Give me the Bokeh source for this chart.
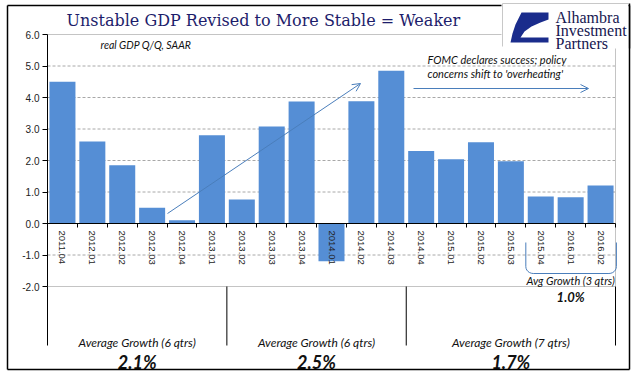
import math
from bokeh.plotting import figure
from bokeh.models import (Range1d, Label, Arrow, OpenHead, ColumnDataSource, LinearAxis,
                          FixedTicker, NumeralTickFormatter, PolyAnnotation)
from bokeh.embed import file_html
from bokeh.resources import INLINE

# ---------------- data ----------------
quarters = ["2011.04", "2012.01", "2012.02", "2012.03", "2012.04", "2013.01", "2013.02",
            "2013.03", "2013.04", "2014.01", "2014.02", "2014.03", "2014.04", "2015.01",
            "2015.02", "2015.03", "2015.04", "2016.01", "2016.02"]
gdp = [4.5, 2.6, 1.85, 0.5, 0.1, 2.8, 0.76, 3.08, 3.87, -1.2, 3.88, 4.85,
       2.3, 2.04, 2.58, 1.98, 0.86, 0.83, 1.21]
y_ticks = [-2, -1, 0, 1, 2, 3, 4, 5, 6]
group_labels = ["Average Growth (6 qtrs)", "Average Growth (6 qtrs)", "Average Growth (7 qtrs)"]
group_values = ["2.1%", "2.5%", "1.7%"]
group_bounds = [0, 6, 12, 19]
recent_label = "Avg Growth (3 qtrs)"
recent_value = "1.0%"
recent_span = [16, 19]
title_text = "Unstable GDP Revised to More Stable = Weaker"
subtitle_text = "real GDP Q/Q, SAAR"
note_lines = ["FOMC declares success; policy", "concerns shift to 'overheating'"]
logo_lines = ["Alhambra", "Investment", "Partners"]

# ---------------- layout (plot area inside the canvas) ----------------
W, H = 641, 375
L, R, T, B = 47, 26, 34, 89          # plot area margins in px
FW, FH = W - L - R, H - T - B
YMIN, YMAX = y_ticks[0], y_ticks[-1]
NX = len(quarters)
XU = FW / NX                          # px per category
YU = FH / (YMAX - YMIN)               # px per unit

def px2x(px):
    return (px - L) / XU

def px2y(py):
    return YMAX - (py - T) / YU

BAR = "#558ed5"
ARROWC = "#4a7ebb"
NAVY = "#1d1d6b"
ITALIC_FONT = "Lato"
GRID = "#a8a8a8"
FRAME = "#c4c4c4"

p = figure(width=W, height=H,
           x_range=Range1d(px2x(0), px2x(W)), y_range=Range1d(px2y(H), px2y(0)),
           x_axis_location=None, y_axis_location=None,
           output_backend="svg", toolbar_location=None,
           min_border=0, min_border_left=0, min_border_right=0,
           min_border_top=0, min_border_bottom=0)
p.title.visible = False
p.background_fill_color = "white"
p.border_fill_color = "white"
p.outline_line_color = None
p.xgrid.visible = False
p.ygrid.visible = False

xpos = [i + 0.5 for i in range(NX)]
bounds_x = list(range(NX + 1))

# gridlines (dashed) and plot-area border (light grey)
inner = [t for t in y_ticks if YMIN < t < YMAX]
p.segment(x0=[0] * len(inner), y0=inner, x1=[NX] * len(inner), y1=inner,
          line_color=GRID, line_width=1, line_dash="3 2")
p.multi_line(xs=[[0, NX, NX, 0]], ys=[[YMAX, YMAX, YMIN, YMIN]], line_color=FRAME, line_width=1)

# bars
p.vbar(x=xpos, top=gdp, width=0.87, fill_color=BAR, line_color=None)

# y axis at the left edge of the plot area
yax = LinearAxis(fixed_location=0, bounds=(YMIN, YMAX))
yax.ticker = FixedTicker(ticks=y_ticks)
yax.formatter = NumeralTickFormatter(format="0.0")
yax.major_tick_in = 0
yax.major_tick_out = 5
yax.minor_tick_out = 0
yax.minor_tick_in = 0
yax.axis_line_color = "black"
yax.major_tick_line_color = "black"
yax.major_label_text_font = "Liberation Sans"
yax.major_label_text_font_size = "10px"
yax.major_label_text_color = "#222222"
yax.major_label_standoff = 3
p.add_layout(yax, "left")

# category axis on the zero line: tick marks between categories
xax_t = LinearAxis(fixed_location=0, bounds=(0, NX))
xax_t.ticker = FixedTicker(ticks=bounds_x)
xax_t.major_tick_in = 0
xax_t.major_tick_out = 4
xax_t.minor_tick_out = 0
xax_t.minor_tick_in = 0
xax_t.axis_line_color = "black"
xax_t.major_tick_line_color = "black"
xax_t.major_label_text_color = None
p.add_layout(xax_t, "below")

# category labels
xax_l = LinearAxis(fixed_location=0)
xax_l.ticker = FixedTicker(ticks=xpos)
xax_l.major_label_overrides = {x: q for x, q in zip(xpos, quarters)}
xax_l.major_label_orientation = "vertical"
xax_l.major_tick_out = 0
xax_l.major_tick_in = 0
xax_l.minor_tick_out = 0
xax_l.minor_tick_in = 0
xax_l.axis_line_color = None
xax_l.major_tick_line_color = None
xax_l.major_label_standoff = 7
xax_l.major_label_text_font = "Liberation Sans"
xax_l.major_label_text_font_size = "9.5px"
xax_l.major_label_text_color = "#222222"
p.add_layout(xax_l, "below")

# arrows
p.add_layout(Arrow(end=OpenHead(size=8, line_color=ARROWC, line_width=1),
                   x_start=px2x(167), y_start=px2y(213), x_end=px2x(360), y_end=px2y(83),
                   line_color=ARROWC, line_width=1))
p.add_layout(Arrow(end=OpenHead(size=8, line_color=ARROWC, line_width=1),
                   x_start=px2x(413), y_start=px2y(88), x_end=px2x(588), y_end=px2y(88),
                   line_color=ARROWC, line_width=1))

# text annotations
p.add_layout(Label(x=px2x(100), y=px2y(44), text=subtitle_text, text_font=ITALIC_FONT,
                   text_font_style="italic", text_font_size="10.5px", text_color="#111111",
                   text_baseline="middle"))
for i, line in enumerate(note_lines):
    p.add_layout(Label(x=px2x(427), y=px2y(59 + 14 * i), text=line, text_font=ITALIC_FONT,
                       text_font_style="italic", text_font_size="11px", text_color="#111111",
                       text_baseline="middle"))

# bracket for the recent quarters
x0b, x1b = recent_span[0], recent_span[1] + 0.03
ytop, ybot = px2y(242), px2y(273)
rx, ry = 0.25, 0.22
bxs, bys = [x0b, x0b], [ytop, ybot + ry]
for k in range(1, 7):
    a = math.pi + k * (math.pi / 2) / 6
    bxs.append(x0b + rx + rx * math.cos(a)); bys.append(ybot + ry + ry * math.sin(a))
for k in range(0, 7):
    a = 1.5 * math.pi + k * (math.pi / 2) / 6
    bxs.append(x1b - rx + rx * math.cos(a)); bys.append(ybot + ry + ry * math.sin(a))
bxs.append(x1b); bys.append(ytop)
p.line(bxs, bys, line_color=ARROWC, line_width=1)
rc = (recent_span[0] + recent_span[1]) / 2
p.add_layout(Label(x=rc, y=px2y(280), text=recent_label,
                   text_font=ITALIC_FONT, text_font_style="italic", text_font_size="11px",
                   text_color="#111111", text_align="center", text_baseline="middle"))
p.add_layout(Label(x=rc, y=px2y(296), text=recent_value,
                   text_font=ITALIC_FONT, text_font_style="bold italic", text_font_size="13px",
                   text_color="#111111", text_align="center", text_baseline="middle"))

# bottom section: dividers and group averages
div_bottom = px2y(345)
p.segment(x0=group_bounds, y0=[YMIN] * len(group_bounds), x1=group_bounds,
          y1=[div_bottom] * len(group_bounds), line_color="black", line_width=1)
for i in range(len(group_labels)):
    cx = (group_bounds[i] + group_bounds[i + 1]) / 2
    p.add_layout(Label(x=cx, y=px2y(342), text=group_labels[i], text_font=ITALIC_FONT,
                       text_font_style="italic", text_font_size="12px", text_color="#111111",
                       text_align="center", text_baseline="middle"))
    p.add_layout(Label(x=cx, y=px2y(361), text=group_values[i], text_font=ITALIC_FONT,
                       text_font_style="bold italic", text_font_size="18px", text_color="#111111",
                       text_align="center", text_baseline="middle"))

# outer border
bl, br, bt, bb = px2x(7), px2x(629), px2y(5), px2y(369)
p.add_layout(Arrow(end=None, source=ColumnDataSource(dict(
    x0=[bl, br, br, bl], y0=[bt, bt, bb, bb], x1=[br, br, bl, bl], y1=[bt, bb, bb, bt])),
    x_start="x0", y_start="y0", x_end="x1", y_end="y1", line_color="black", line_width=1.5))

# title
p.add_layout(Label(x=px2x(66), y=px2y(20), text=title_text, text_font="DejaVu Serif",
                   text_font_size="16px", text_color=NAVY, text_baseline="middle"))

# logo
def poly(pts, **kw):
    return PolyAnnotation(xs=[px2x(a) for a, b in pts], ys=[px2y(b) for a, b in pts], **kw)

p.add_layout(poly([(501, 0), (628, 0), (628, 48), (501, 48)], fill_color="white", fill_alpha=1,
                  line_color=None))
p.add_layout(Arrow(end=None, source=ColumnDataSource(dict(
    x0=[px2x(502), px2x(502)], y0=[px2y(3), px2y(3)], x1=[px2x(628), px2x(502)], y1=[px2y(3), px2y(46)])),
    x_start="x0", y_start="y0", x_end="x1", y_end="y1", line_color="#c8c8c8", line_width=1))
p.add_layout(Arrow(end=None, x_start=px2x(629), y_start=px2y(3), x_end=px2x(629), y_end=px2y(48),
                   line_color="black", line_width=1.5))
swoosh = [(521, 12), (548, 12), (548, 19), (540, 22), (531, 26), (524, 31), (520, 37),
          (548, 37), (548, 42), (510, 42), (512, 33), (515, 24)]
p.add_layout(poly(swoosh, fill_color="#1a2c8c", fill_alpha=1, line_color=None))
for i, line in enumerate(logo_lines):
    p.add_layout(Label(x=px2x(555), y=px2y(17 + 13 * i), text=line, text_font="Liberation Serif",
                       text_font_size="16px", text_color="#161650", text_baseline="middle"))

open("out.html", "w").write(file_html(p, INLINE))
